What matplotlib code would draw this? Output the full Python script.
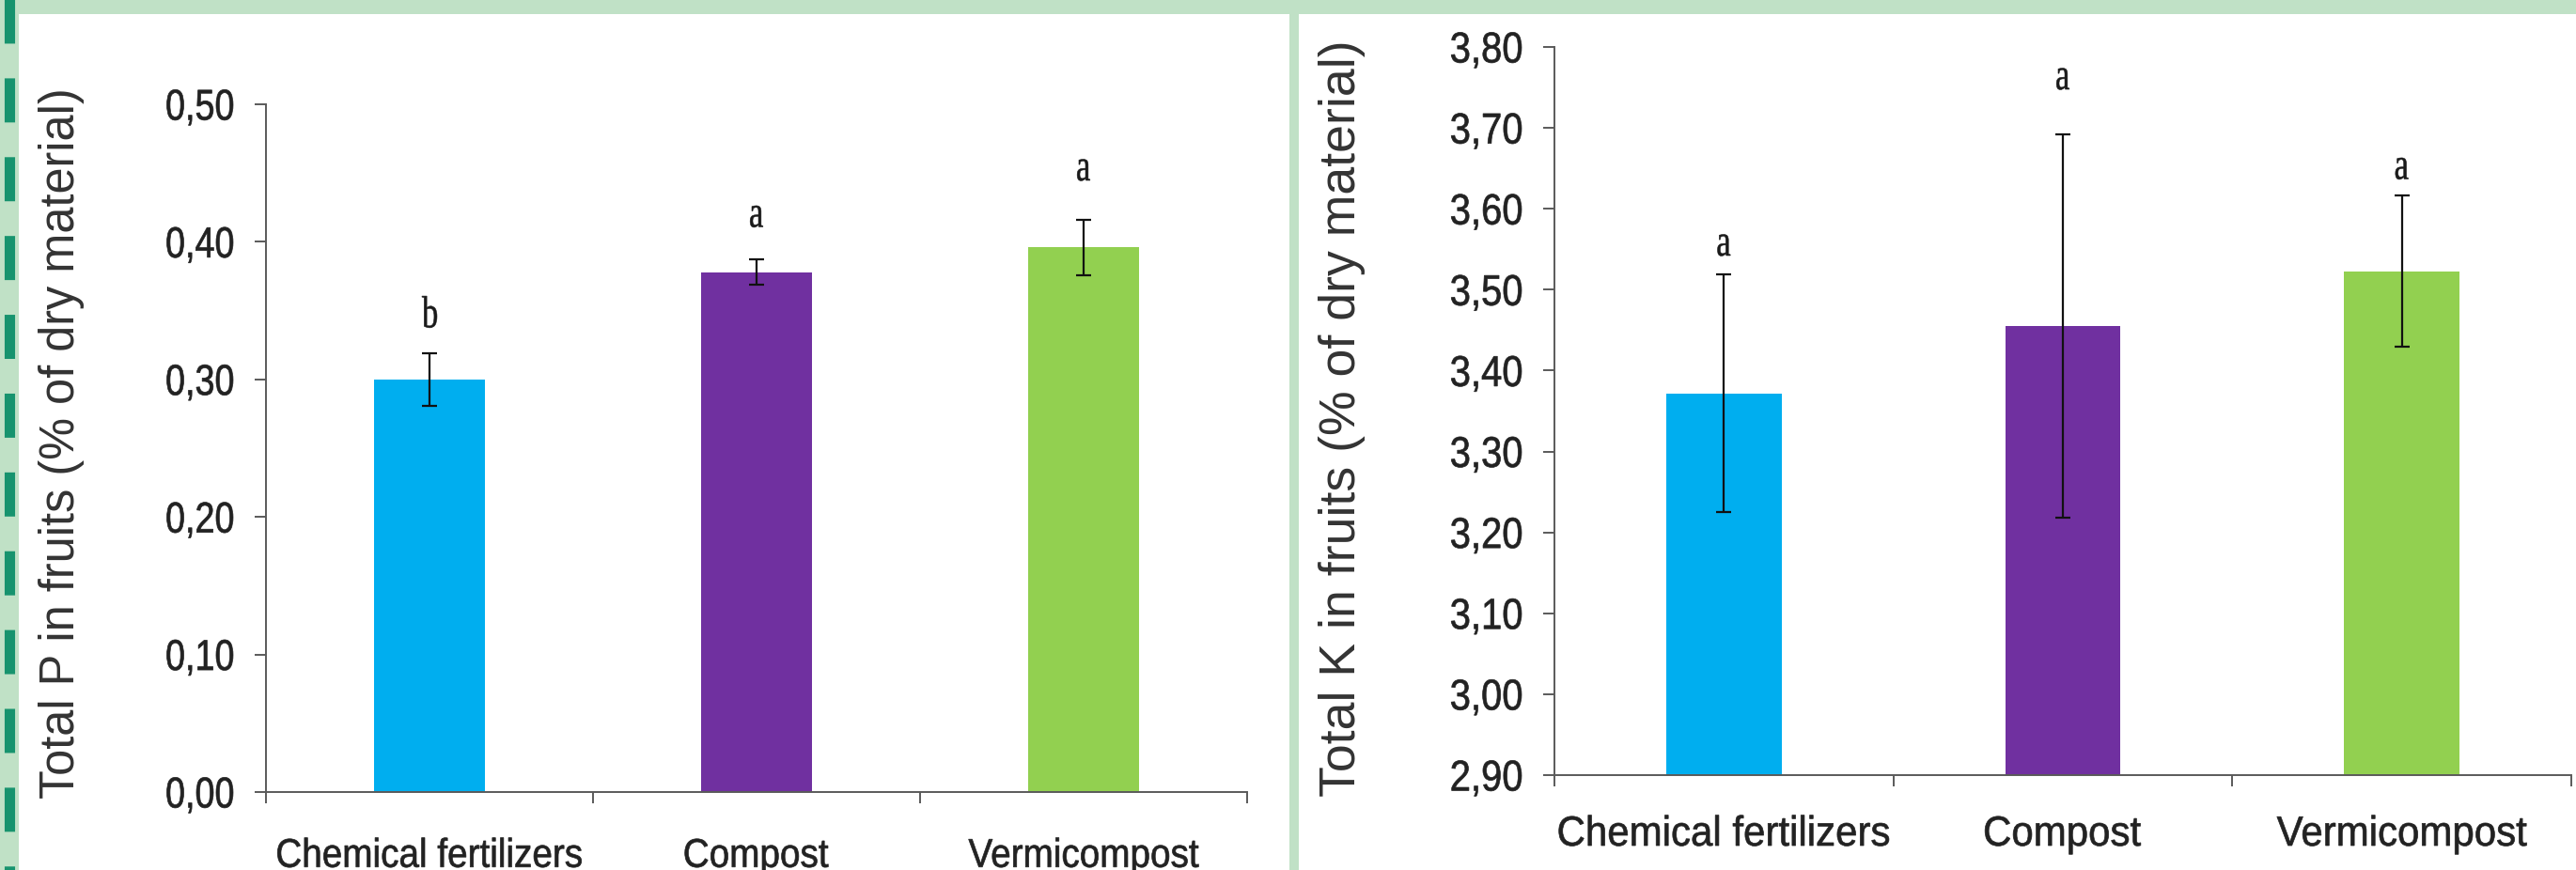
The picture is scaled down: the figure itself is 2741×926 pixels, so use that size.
import matplotlib
matplotlib.use("Agg")
import matplotlib.pyplot as plt
from matplotlib.patches import Rectangle, PathPatch
from matplotlib.lines import Line2D
from matplotlib.ticker import FixedLocator
from matplotlib.textpath import TextPath
from matplotlib.font_manager import FontProperties
from matplotlib.transforms import Affine2D, IdentityTransform

# data
categories = ["Chemical fertilizers", "Compost", "Vermicompost"]
bar_colors = ["#00aeef", "#7030a0", "#92d050"]

p_values = [0.300, 0.378, 0.396]
p_errors = [0.019, 0.009, 0.020]
p_letters = ["b", "a", "a"]
p_ticks = [0.0, 0.1, 0.2, 0.3, 0.4, 0.5]

k_values = [3.372, 3.455, 3.523]
k_errors = [0.147, 0.237, 0.093]
k_letters = ["a", "a", "a"]
k_ticks = [2.9, 3.0, 3.1, 3.2, 3.3, 3.4, 3.5, 3.6, 3.7, 3.8]

W, H = 2741, 926
plt.rcParams["lines.scale_dashes"] = False
fig = plt.figure(figsize=(W / 100, H / 100), dpi=100)
fig.patch.set_facecolor("#c0e1c6")

# white panels (behind the axes)
fig.patches.append(Rectangle((20 / W, 0), (1372 - 20) / W, (H - 15) / H,
                             transform=fig.transFigure, facecolor="white", edgecolor="none", zorder=-10))
fig.patches.append(Rectangle((1382 / W, 0), (W - 1382) / W, (H - 15) / H,
                             transform=fig.transFigure, facecolor="white", edgecolor="none", zorder=-10))
# dashed strip on the left edge
dash = Line2D([10 / W, 10 / W], [1 + 34 / H, 0], transform=fig.transFigure,
              color="#17936e", linewidth=8, solid_capstyle="butt", dash_capstyle="butt", zorder=-5)
dash.set_dashes((33.8, 26.6))
fig.lines.append(dash)


def narrow_text(s, x, y, size, sx, family, ha="center", va="base", color="#222222", lw=0.0):
    # text drawn as a path so it can be squeezed sideways like Arial Narrow
    tp = TextPath((0, 0), s, size=size, prop=FontProperties(family=family))
    ext = tp.get_extents()
    if ha == "center":
        dx = x - sx * (ext.x0 + ext.width / 2)
    elif ha == "right":
        dx = x - sx * ext.x1
    else:
        dx = x - sx * ext.x0
    if va == "center":
        dy = y - (ext.y0 + ext.height / 2)
    elif va == "digits":
        dy = y - 0.358 * size
    elif va == "captop":
        dy = y - 0.716 * size
    else:
        dy = y
    path = Affine2D().scale(sx, 1).translate(dx, dy).transform_path(tp)
    fig.add_artist(PathPatch(path, facecolor=color, edgecolor=color if lw else "none",
                             lw=lw, transform=IdentityTransform(), zorder=10))


def draw_panel(rect, values, errors, letters, letter_off, ylim, yticks, ylabel, label_size,
               label_xy, ytick_sx, xlab_size, xlab_sx, xlab_gap):
    ax = fig.add_axes(rect)
    ax.set_zorder(5)
    ax.set_facecolor("none")
    x = list(range(len(categories)))
    ax.bar(x, values, width=0.34, color=bar_colors, zorder=2)
    ax.errorbar(x, values, yerr=errors, fmt="none", ecolor="#111111",
                elinewidth=1.6, capsize=6, capthick=1.6, zorder=3)
    ax.set_xlim(-0.5, len(categories) - 0.5)
    ax.set_ylim(*ylim)
    ax.yaxis.set_major_locator(FixedLocator(yticks))
    ax.set_xticks(x)
    ax.xaxis.set_minor_locator(FixedLocator([i - 0.5 for i in range(len(categories) + 1)]))
    for s in ["top", "right"]:
        ax.spines[s].set_visible(False)
    for s in ["left", "bottom"]:
        ax.spines[s].set_color("#5a5a5a")
        ax.spines[s].set_linewidth(1.4)
    ax.tick_params(axis="y", length=8.6, width=1.4, color="#5a5a5a", labelleft=False)
    ax.tick_params(axis="x", which="major", length=0, labelbottom=False)
    ax.tick_params(axis="x", which="minor", length=8.6, width=1.4, color="#5a5a5a")
    ax.set_ylabel(ylabel, fontsize=label_size, family=["Liberation Sans", "DejaVu Sans"],
                  color="#333333")
    ax.yaxis.set_label_coords(*label_xy)

    # narrow tick labels
    for v in yticks:
        px, py = ax.transData.transform((-0.5, v))
        narrow_text(f"{v:.2f}".replace(".", ","), px - 35, py, 46, ytick_sx,
                    "Liberation Sans", ha="right", va="digits", lw=0.5)
    for i, name in enumerate(categories):
        px, py = ax.transData.transform((i, ylim[0]))
        narrow_text(name, px, py - xlab_gap, xlab_size, xlab_sx,
                    "Liberation Sans", ha="center", va="captop", lw=0.5)
    # significance letters above the error bars
    for i, (v, e, t) in enumerate(zip(values, errors, letters)):
        px, py = ax.transData.transform((i, v + e))
        narrow_text(t, px, py + letter_off[i], 48, 0.72, "Liberation Serif",
                    ha="center", va="center", color="#1a1a1a", lw=0.4)
    return ax


draw_panel([283 / W, (H - 843) / H, 1044 / W, 732 / H], p_values, p_errors, p_letters,
           [44, 46, 53], (0, 0.5), p_ticks,
           "Total P in fruits (% of dry material)", 36.4, (-0.185, 0.507), 0.82, 43, 0.9, 49)

draw_panel([1654 / W, (H - 825) / H, 1082 / W, 775 / H], k_values, k_errors, k_letters,
           [31, 59, 29], (2.9, 3.8), k_ticks,
           "Total K in fruits (% of dry material)", 38.6, (-0.186, 0.49), 0.87, 44.7, 0.94, 43)

fig.savefig("out.png", dpi=100, facecolor=fig.get_facecolor())
